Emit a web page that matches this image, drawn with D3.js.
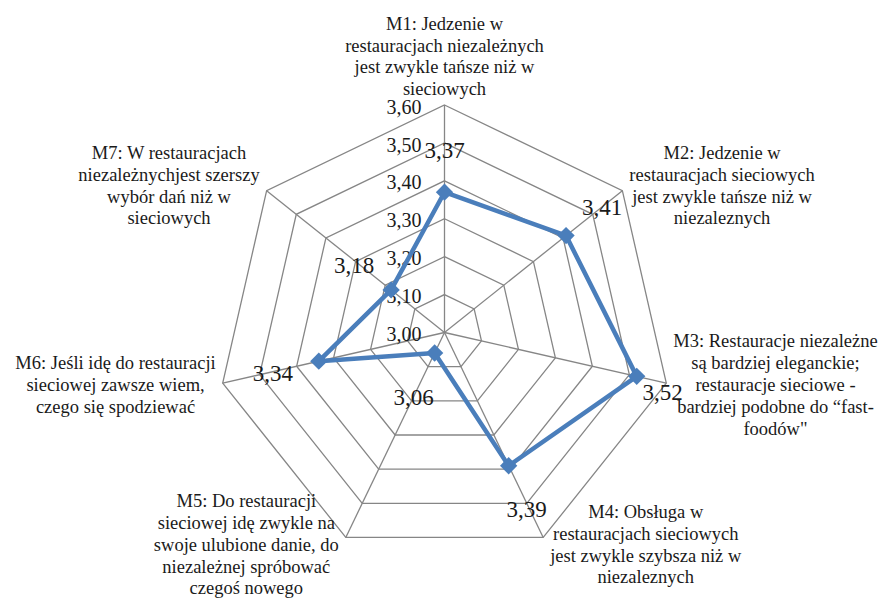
<!DOCTYPE html>
<html><head><meta charset="utf-8">
<script src="https://cdn.jsdelivr.net/npm/d3@7"></script>
<style>body{margin:0;background:#fff} svg text{font-family:"Liberation Serif","Tinos","Times New Roman","DejaVu Serif",serif}</style>
</head><body><svg id="c" width="883" height="598"></svg>
<script>
const categories = [
  ["M1: Jedzenie w", "restauracjach niezależnych", "jest zwykle tańsze niż w", "sieciowych"],
  ["M2: Jedzenie w", "restauracjach sieciowych", "jest zwykle tańsze niż w", "niezaleznych"],
  ["M3: Restauracje niezależne", "są bardziej eleganckie;", "restauracje sieciowe -", "bardziej podobne do “fast-", "foodów\""],
  ["M4: Obsługa w", "restauracjach sieciowych", "jest zwykle szybsza niż w", "niezaleznych"],
  ["M5: Do restauracji", "sieciowej idę zwykle na", "swoje ulubione danie, do", "niezależnej spróbować", "czegoś nowego"],
  ["M6: Jeśli idę do restauracji", "sieciowej zawsze wiem,", "czego się spodziewać"],
  ["M7: W restauracjach", "niezależnychjest szerszy", "wybór dań niż w", "sieciowych"]
];
const values = [3.37, 3.41, 3.52, 3.39, 3.06, 3.34, 3.18];
const valueLabels = ["3,37", "3,41", "3,52", "3,39", "3,06", "3,34", "3,18"];
const tickValues = [3.00, 3.10, 3.20, 3.30, 3.40, 3.50, 3.60];
const tickLabels = ["3,00", "3,10", "3,20", "3,30", "3,40", "3,50", "3,60"];

// layout / style
const cx = 444.5, cy = 332.5, R = 227.5;
const labelOffX = [0, 36, 26, 18, -21, -46, -37];
const labelOffY = [-42, -28, 16, 44, 44, 12, -25];
const seriesColor = "#4A7EBB";
const gridColor = "#868686";
const textColor = "#1a1a1a";

const svg = d3.select("#c");
const g = svg.append("g").attr("transform", `translate(${cx},${cy})`);
const n = categories.length;
const angle = d3.scaleLinear().domain([0, n]).range([0, 2 * Math.PI]);
const r = d3.scaleLinear().domain([3.0, 3.6]).range([0, R]);
const px = (i, v) => r(v) * Math.sin(angle(i));
const py = (i, v) => -r(v) * Math.cos(angle(i));

const ring = d3.lineRadial().curve(d3.curveLinearClosed);
g.selectAll("path.ring").data(tickValues.slice(1)).join("path")
  .attr("class", "ring")
  .attr("d", t => ring(d3.range(n).map(i => [angle(i), r(t)])))
  .attr("fill", "none").attr("stroke", gridColor).attr("stroke-width", 1.3);
g.selectAll("line.spoke").data(d3.range(n)).join("line")
  .attr("x1", 0).attr("y1", 0)
  .attr("x2", i => px(i, 3.6)).attr("y2", i => py(i, 3.6))
  .attr("stroke", gridColor).attr("stroke-width", 1.3);

g.selectAll("text.tick").data(tickValues).join("text")
  .attr("x", -23).attr("y", t => -r(t) + 2)
  .attr("dy", "0.33em")
  .attr("text-anchor", "end")
  .attr("font-size", 20).attr("fill", textColor)
  .text((t, k) => tickLabels[k]);

g.append("path")
  .attr("d", ring(values.map((v, i) => [angle(i), r(v)])))
  .attr("fill", "none").attr("stroke", seriesColor).attr("stroke-width", 4.5)
  .attr("stroke-linejoin", "round");
g.selectAll("path.mk").data(values).join("path")
  .attr("d", d3.symbol(d3.symbolSquare, 150))
  .attr("transform", (v, i) => `translate(${px(i, v)},${py(i, v)}) rotate(45)`)
  .attr("fill", seriesColor);

g.selectAll("text.val").data(values).join("text")
  .attr("x", (v, i) => px(i, v) + labelOffX[i])
  .attr("y", (v, i) => py(i, v) + labelOffY[i])
  .attr("dy", "0.33em").attr("text-anchor", "middle")
  .attr("font-size", 23).attr("fill", textColor)
  .text((v, i) => valueLabels[i]);

const fs = 18.5, lh = 21.8, pad = 7;
categories.forEach((lines, i) => {
  const a = angle(i), s = Math.sin(a), c = Math.cos(a);
  const vx = px(i, 3.6), vy = py(i, 3.6);
  const t = g.append("text").attr("font-size", fs)
    .attr("fill", textColor).attr("text-anchor", "middle");
  const spans = lines.map(l => t.append("tspan").text(l));
  const w = d3.max(spans, sp => sp.node().getComputedTextLength());
  let bx, firstCenter;
  const blockH = (lines.length - 1) * lh;
  if (Math.abs(s) < 0.1) {
    bx = vx;
    firstCenter = vy - 16 - blockH;
  } else {
    bx = vx + Math.sign(s) * (pad + w / 2);
    firstCenter = vy - c * 8 - blockH / 2;
  }
  spans.forEach((sp, k) => sp.attr("x", bx).attr("y", firstCenter + k * lh + fs * 0.33));
});
</script>
</body></html>
